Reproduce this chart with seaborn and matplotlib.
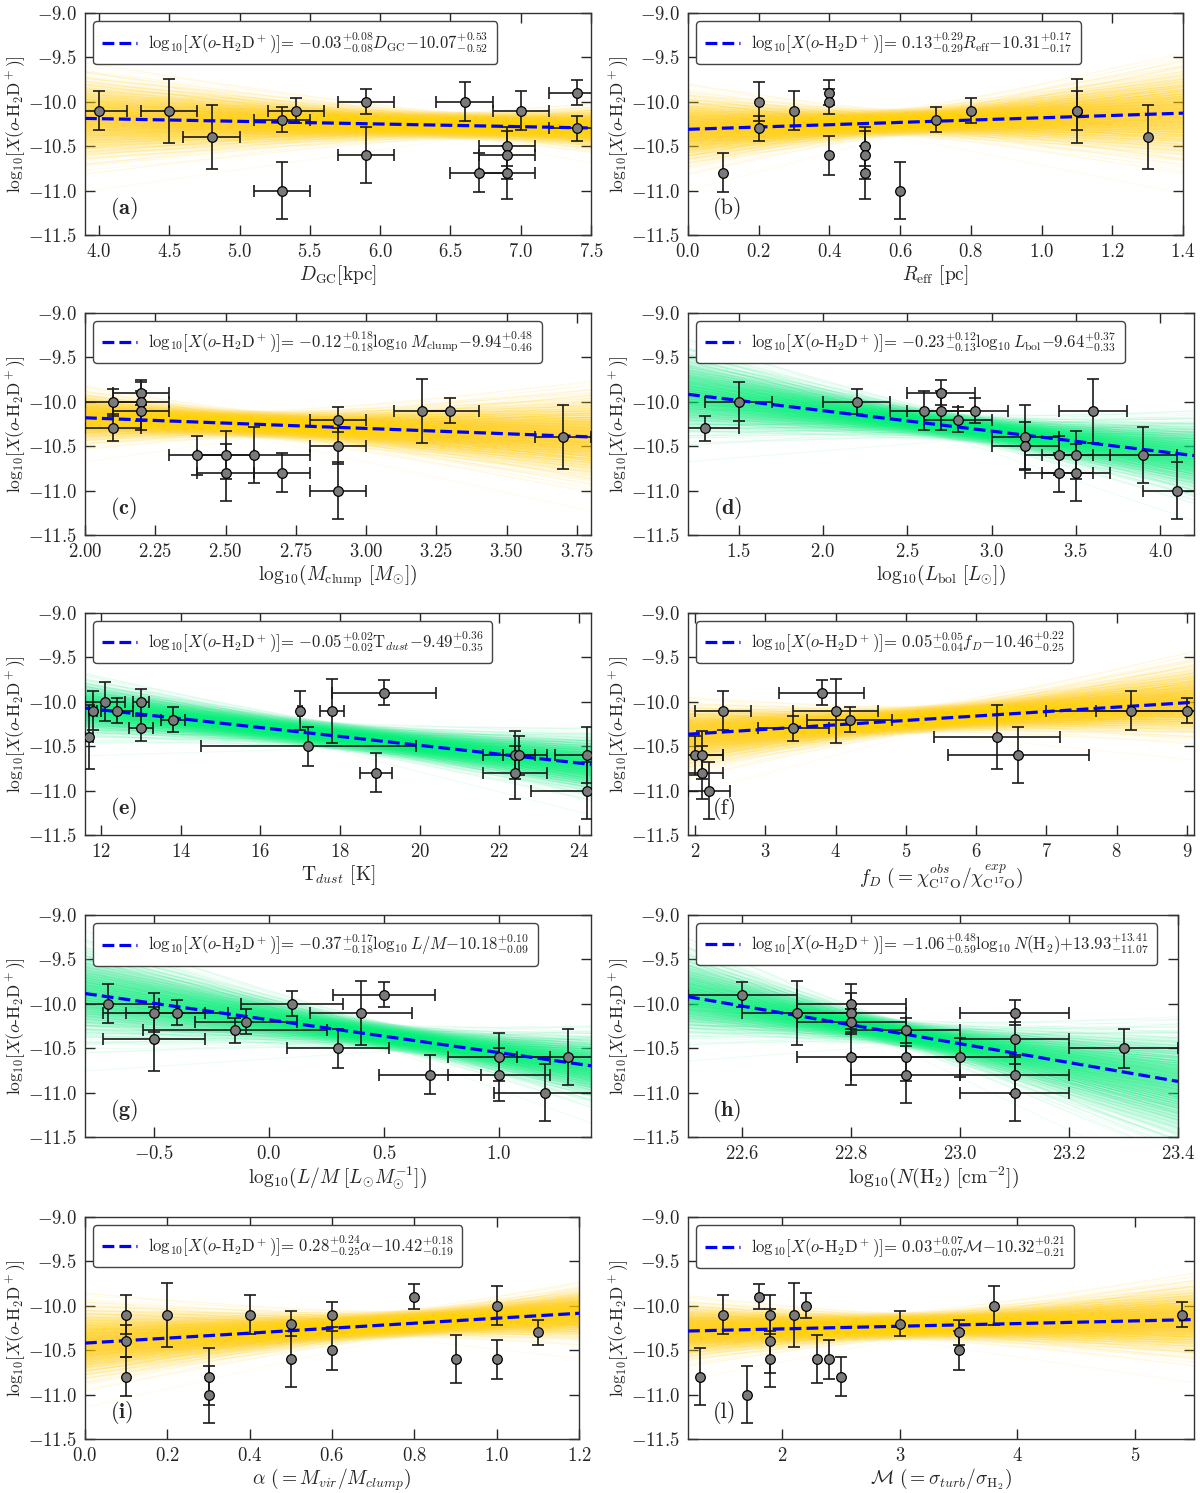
import numpy as np
import pandas as pd
import seaborn as sns
import matplotlib
matplotlib.use('Agg')
import matplotlib.pyplot as plt
from matplotlib.collections import LineCollection
from statistics import NormalDist

# ---- data ----
# (a) galactocentric distance
dgc_x = [4.0, 4.5, 4.8, 5.3, 5.3, 5.4, 5.9, 5.9, 6.6, 6.7, 6.9, 6.9, 6.9, 7.0, 7.4, 7.4]
dgc_xerr = [0.2] * 16
dgc_y = [-10.1, -10.1, -10.4, -10.2, -11.0, -10.1, -10.0, -10.6, -10.0, -10.8, -10.5, -10.6, -10.8, -10.1, -9.9, -10.3]
dgc_yerr = [0.22, 0.36, 0.36, 0.14, 0.32, 0.14, 0.14, 0.32, 0.22, 0.22, 0.22, 0.27, 0.30, 0.22, 0.14, 0.14]

# (b) effective radius
reff_x = [0.1, 0.2, 0.2, 0.3, 0.4, 0.4, 0.4, 0.5, 0.5, 0.5, 0.6, 0.7, 0.8, 1.1, 1.1, 1.3]
reff_y = [-10.8, -10.0, -10.3, -10.1, -9.9, -10.0, -10.6, -10.5, -10.6, -10.8, -11.0, -10.2, -10.1, -10.1, -10.1, -10.4]
reff_yerr = [0.22, 0.22, 0.14, 0.22, 0.14, 0.14, 0.22, 0.22, 0.27, 0.30, 0.32, 0.14, 0.14, 0.36, 0.22, 0.36]

# (c) clump mass
mcl_x = [2.1, 2.1, 2.2, 2.2, 2.2, 2.4, 2.5, 2.5, 2.6, 2.7, 2.9, 2.9, 2.9, 3.2, 3.3, 3.7]
mcl_xerr = [0.1, 0.1, 0.1, 0.1, 0.1, 0.1, 0.1, 0.1, 0.2, 0.1, 0.1, 0.1, 0.1, 0.1, 0.1, 0.1]
mcl_y = [-10.0, -10.3, -9.9, -10.0, -10.1, -10.6, -10.6, -10.8, -10.6, -10.8, -10.2, -10.5, -11.0, -10.1, -10.1, -10.4]
mcl_yerr = [0.14, 0.14, 0.14, 0.22, 0.22, 0.22, 0.27, 0.32, 0.32, 0.22, 0.14, 0.20, 0.32, 0.36, 0.14, 0.36]

# (d) bolometric luminosity
lbol_x = [1.3, 1.5, 2.2, 2.6, 2.7, 2.7, 2.8, 2.9, 3.2, 3.2, 3.4, 3.4, 3.5, 3.5, 3.6, 3.9, 4.1]
lbol_xerr = [0.2] * 17
lbol_y = [-10.3, -10.0, -10.0, -10.1, -9.9, -10.1, -10.2, -10.1, -10.4, -10.5, -10.6, -10.8, -10.6, -10.8, -10.1, -10.6, -11.0]
lbol_yerr = [0.14, 0.22, 0.14, 0.22, 0.14, 0.22, 0.14, 0.14, 0.36, 0.27, 0.22, 0.22, 0.27, 0.32, 0.36, 0.32, 0.32]

# (e) dust temperature
tdust_x = [11.7, 11.8, 12.1, 12.4, 13.0, 13.0, 13.8, 17.0, 17.2, 17.8, 18.9, 19.1, 22.4, 22.4, 22.5, 24.2, 24.2]
tdust_xerr = [0.1, 0.1, 0.5, 0.4, 0.2, 0.3, 0.3, 0.05, 2.7, 0.3, 0.4, 1.3, 0.8, 0.8, 0.4, 0.8, 1.4]
tdust_y = [-10.4, -10.1, -10.0, -10.1, -10.0, -10.3, -10.2, -10.1, -10.5, -10.1, -10.8, -9.9, -10.6, -10.8, -10.6, -10.6, -11.0]
tdust_yerr = [0.36, 0.22, 0.22, 0.14, 0.14, 0.14, 0.14, 0.22, 0.22, 0.36, 0.22, 0.14, 0.27, 0.30, 0.22, 0.32, 0.32]

# (f) depletion factor
fd_x = [2.0, 2.1, 2.1, 2.2, 2.4, 3.4, 3.8, 4.0, 4.2, 6.3, 6.6, 8.2, 9.0]
fd_xerr = [0.4, 0.3, 0.3, 0.3, 0.4, 0.5, 0.6, 0.6, 0.6, 0.9, 1.0, 1.2, 1.3]
fd_y = [-10.6, -10.6, -10.8, -11.0, -10.1, -10.3, -9.9, -10.1, -10.2, -10.4, -10.6, -10.1, -10.1]
fd_yerr = [0.22, 0.27, 0.30, 0.32, 0.22, 0.14, 0.14, 0.36, 0.14, 0.36, 0.32, 0.22, 0.14]

# (g) L/M
lm_x = [-0.7, -0.5, -0.4, -0.5, -0.15, -0.1, 0.1, 0.3, 0.4, 0.5, 0.7, 1.0, 1.0, 1.2, 1.3]
lm_xerr = [0.22, 0.22, 0.22, 0.22, 0.4, 0.22, 0.22, 0.22, 0.22, 0.22, 0.22, 0.22, 0.22, 0.22, 0.22]
lm_y = [-10.0, -10.1, -10.1, -10.4, -10.3, -10.2, -10.0, -10.5, -10.1, -9.9, -10.8, -10.6, -10.8, -11.0, -10.6]
lm_yerr = [0.22, 0.22, 0.14, 0.36, 0.14, 0.14, 0.14, 0.22, 0.36, 0.14, 0.22, 0.27, 0.30, 0.32, 0.32]

# (h) H2 column density
nh2_x = [22.6, 22.7, 22.8, 22.8, 22.8, 22.8, 22.9, 22.9, 22.9, 23.0, 23.1, 23.1, 23.1, 23.1, 23.3]
nh2_xerr = [0.1] * 15
nh2_y = [-9.9, -10.1, -10.0, -10.1, -10.2, -10.6, -10.3, -10.6, -10.8, -10.6, -10.1, -10.4, -10.8, -11.0, -10.5]
nh2_yerr = [0.14, 0.36, 0.22, 0.22, 0.14, 0.32, 0.14, 0.27, 0.32, 0.22, 0.14, 0.20, 0.22, 0.32, 0.22]

# (i) virial parameter
alpha_x = [0.1, 0.1, 0.1, 0.2, 0.3, 0.3, 0.4, 0.5, 0.5, 0.6, 0.6, 0.8, 0.9, 1.0, 1.0, 1.1]
alpha_y = [-10.1, -10.4, -10.8, -10.1, -10.8, -11.0, -10.1, -10.2, -10.6, -10.1, -10.5, -9.9, -10.6, -10.0, -10.6, -10.3]
alpha_yerr = [0.22, 0.18, 0.22, 0.36, 0.32, 0.32, 0.22, 0.14, 0.32, 0.14, 0.22, 0.14, 0.27, 0.22, 0.22, 0.14]

# (l) Mach number
mach_x = [1.3, 1.5, 1.7, 1.8, 1.9, 1.9, 1.9, 2.1, 2.2, 2.3, 2.4, 2.5, 3.0, 3.5, 3.5, 3.8, 5.4]
mach_y = [-10.8, -10.1, -11.0, -9.9, -10.1, -10.4, -10.6, -10.1, -10.0, -10.6, -10.6, -10.8, -10.2, -10.3, -10.5, -10.0, -10.1]
mach_yerr = [0.32, 0.22, 0.32, 0.14, 0.22, 0.36, 0.32, 0.36, 0.14, 0.27, 0.22, 0.22, 0.14, 0.14, 0.22, 0.22, 0.14]

# fit results: slope (+err, -err), intercept (+err, -err)
fit_slopes = [-0.03, 0.13, -0.12, -0.23, -0.05, 0.05, -0.37, -1.06, 0.28, 0.03]
fit_slope_up = [0.08, 0.29, 0.18, 0.12, 0.02, 0.05, 0.17, 0.48, 0.24, 0.07]
fit_slope_lo = [0.08, 0.29, 0.18, 0.13, 0.02, 0.04, 0.18, 0.59, 0.25, 0.07]
fit_icepts = [-10.07, -10.31, -9.94, -9.64, -9.49, -10.46, -10.18, 13.93, -10.42, -10.32]
fit_icept_up = [0.53, 0.17, 0.48, 0.37, 0.36, 0.22, 0.10, 13.41, 0.18, 0.21]
fit_icept_lo = [0.52, 0.17, 0.46, 0.33, 0.35, 0.25, 0.09, 11.07, 0.19, 0.21]

fit_vars = [r'D_{\rm GC}', r'R_{\rm eff}', r'{\rm log}_{10}\,M_{\rm clump}', r'{\rm log}_{10}\,L_{\rm bol}',
            r'{\rm T}_{dust}', r'f_D', r'{\rm log}_{10}\,L/M', r'{\rm log}_{10}\,N({\rm H_2})',
            r'\alpha', r'\mathcal{M}']
x_labels = [r'$D_{\rm GC}$[kpc]', r'$R_{\rm eff}$ [pc]', r'$\mathrm{log}_{10}(M_{\rm clump}\ [M_{\odot}])$',
            r'$\mathrm{log}_{10}(L_{\rm bol}\ [L_{\odot}])$', r'T$_{dust}$ [K]',
            r'$f_D\ (=\chi^{obs}_{\rm C^{17}O}/\chi^{exp}_{\rm C^{17}O})$',
            r'$\mathrm{log}_{10}(L/M\ [L_{\odot}M_{\odot}^{-1}])$',
            r'$\mathrm{log}_{10}(N(\mathrm{H_2})\ [\mathrm{cm^{-2}}])$',
            r'$\alpha\ (=M_{vir}/M_{clump})$', r'$\mathcal{M}\ (=\sigma_{turb}/\sigma_{\rm H_2})$']
panel_tags = ['(a)', '(b)', '(c)', '(d)', '(e)', '(f)', '(g)', '(h)', '(i)', '(l)']
panel_bold = [True, False, True, True, True, False, True, True, True, False]
x_limits = [(3.9, 7.5), (0.0, 1.4), (2.0, 3.8), (1.2, 4.2), (11.6, 24.3),
            (1.9, 9.1), (-0.8, 1.4), (22.5, 23.4), (0.0, 1.2), (1.2, 5.5)]
x_ticks = [np.arange(4.0, 7.51, 0.5), np.arange(0.0, 1.41, 0.2), np.arange(2.0, 3.76, 0.25),
           np.arange(1.5, 4.01, 0.5), np.arange(12, 24.1, 2), np.arange(2, 9.1, 1),
           [-0.5, 0.0, 0.5, 1.0], np.arange(22.6, 23.41, 0.2), np.arange(0.0, 1.21, 0.2), [2, 3, 4, 5]]
band_colors = ['#FFD200', '#FFD200', '#FFD200', '#00F07A', '#00F07A',
               '#FFD200', '#00F07A', '#00F07A', '#FFD200', '#FFD200']

points = [
    (dgc_x, dgc_xerr, dgc_y, dgc_yerr),
    (reff_x, None, reff_y, reff_yerr),
    (mcl_x, mcl_xerr, mcl_y, mcl_yerr),
    (lbol_x, lbol_xerr, lbol_y, lbol_yerr),
    (tdust_x, tdust_xerr, tdust_y, tdust_yerr),
    (fd_x, fd_xerr, fd_y, fd_yerr),
    (lm_x, lm_xerr, lm_y, lm_yerr),
    (nh2_x, nh2_xerr, nh2_y, nh2_yerr),
    (alpha_x, None, alpha_y, alpha_yerr),
    (mach_x, None, mach_y, mach_yerr),
]

# axes boxes in pixels: left, top, width (height is the same for all)
boxes = [(85, 13, 506), (688, 13, 495), (85, 313, 506), (688, 313, 506), (85, 613, 506),
         (688, 613, 506), (85, 915, 506), (688, 915, 490), (85, 1217, 494), (688, 1217, 506)]
box_h = 222
W, H = 1200, 1493

sns.set_style('ticks')
plt.rcParams['font.family'] = 'serif'
plt.rcParams['font.serif'] = ['cmr10', 'DejaVu Serif']
plt.rcParams['mathtext.fontset'] = 'cm'
plt.rcParams['axes.formatter.use_mathtext'] = True
plt.rcParams['axes.unicode_minus'] = True

Y_LABEL = r'$\mathrm{log}_{10}[X(o$-$\mathrm{H_2D^+})]$'


def fan_lines(ax, i, xlim):
    # credible band of the fit: lines spread by the quoted errors
    # (deterministic low-discrepancy spread, no random draws)
    m0, b0 = fit_slopes[i], fit_icepts[i]
    sm = 0.5 * (fit_slope_up[i] + fit_slope_lo[i])
    sb = 0.5 * (fit_icept_up[i] + fit_icept_lo[i])
    pivot = sb / sm
    xs = np.array(xlim)
    n = 700
    nd = NormalDist()
    segs = []
    for k in range(n):
        z1 = nd.inv_cdf((k + 0.5) / n)
        z2 = nd.inv_cdf(0.02 + 0.96 * ((k * 0.6180339887) % 1.0))
        dm = z1 * (fit_slope_up[i] if z1 > 0 else fit_slope_lo[i])
        m = m0 + dm
        b = b0 - dm * pivot + z2 * 0.075
        segs.append(np.column_stack([xs, m * xs + b]))
    lc = LineCollection(segs, colors=band_colors[i], alpha=0.07, linewidths=0.8, zorder=1)
    ax.add_collection(lc)


def eq_label(i):
    m = fit_slopes[i]
    b = fit_icepts[i]
    sign = '+' if b > 0 else '-'
    return (Y_LABEL + '= '
            + r'$%.2f^{+%.2f}_{-%.2f}%s{%s}%.2f^{+%.2f}_{-%.2f}$'
            % (m, fit_slope_up[i], fit_slope_lo[i], fit_vars[i], sign, abs(b),
               fit_icept_up[i], fit_icept_lo[i]))


fig = plt.figure(figsize=(W / 100, H / 100), dpi=100)

for i in range(10):
    left, top, w = boxes[i]
    ax = fig.add_axes([left / W, 1 - (top + box_h) / H, w / W, box_h / H])
    xlim = x_limits[i]

    fan_lines(ax, i, xlim)

    fit_df = pd.DataFrame({'x': list(xlim)})
    fit_df['y'] = fit_slopes[i] * fit_df['x'] + fit_icepts[i]
    sns.lineplot(data=fit_df, x='x', y='y', ax=ax, color='blue', lw=2.3,
                 linestyle='--', label=eq_label(i), zorder=4)

    px, pxe, py, pye = points[i]
    ax.errorbar(px, py, xerr=pxe, yerr=pye, fmt='none', ecolor='#1a1a1a',
                elinewidth=1.2, capsize=4, capthick=1.2, zorder=3)
    pts = pd.DataFrame({'x': px, 'y': py})
    sns.scatterplot(data=pts, x='x', y='y', ax=ax, color='#7a7a7a', edgecolor='black',
                    linewidth=0.9, s=48, zorder=5, legend=False)

    ax.set_xlim(xlim)
    ax.set_ylim(-11.5, -9.0)
    ax.set_xticks(x_ticks[i])
    ax.set_yticks(np.arange(-11.5, -8.99, 0.5))
    ax.tick_params(direction='in', top=True, right=True, length=7, width=1,
                   labelsize=13.5, pad=6)
    for sp in ax.spines.values():
        sp.set_color('#333333')
        sp.set_linewidth(1.0)

    ax.set_xlabel(x_labels[i], fontsize=14, labelpad=1)
    ax.set_ylabel(Y_LABEL, fontsize=12.5, labelpad=0)

    tag = r'$\mathbf{%s}$' % panel_tags[i] if panel_bold[i] else panel_tags[i]
    ax.text(0.05, 0.12, tag, transform=ax.transAxes, fontsize=16, va='center', ha='left')

    leg = ax.legend(loc='upper left', fontsize=12, frameon=True, fancybox=True,
                    handlelength=2.1, handletextpad=0.7, borderpad=0.5, framealpha=1)
    leg.get_frame().set_edgecolor('#444444')
    leg.get_frame().set_linewidth(1.0)

fig.savefig('out.png', dpi=100)
